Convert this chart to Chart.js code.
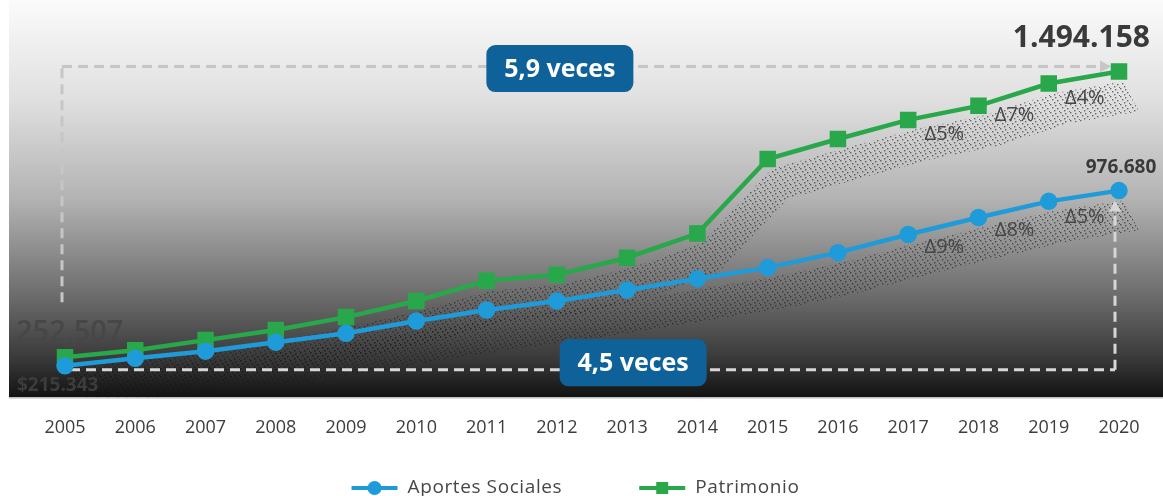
<!DOCTYPE html>
<html>
<head>
<meta charset="utf-8">
<script src="https://cdn.jsdelivr.net/npm/chart.js@4.4.1/dist/chart.umd.min.js"></script>
<style>
  html, body { margin: 0; padding: 0; background: #fff; overflow: hidden; }
  #wrap { width: 1163px; height: 496px; position: relative; }
</style>
</head>
<body>
<div id="wrap"><canvas id="chartCanvas"></canvas></div>
<script>
// datos
const years = ['2005', '2006', '2007', '2008', '2009', '2010', '2011', '2012',
               '2013', '2014', '2015', '2016', '2017', '2018', '2019', '2020'];
const aportes = [215343, 248000, 279000, 318000, 357000, 410000, 458000, 497000,
                 545000, 594000, 642000, 707000, 786000, 860000, 930000, 976680];
const patrimonio = [252507, 283000, 327000, 371000, 427000, 497000, 585000, 611000,
                    685000, 790000, 1114000, 1201000, 1284000, 1345000, 1442000, 1494158];
// variacion respecto al año anterior (se pinta entre i-1 e i)
const aportesDelta = ['', '', '', '', '', '', '', '', '', '', '', '', '', 'Δ9%', 'Δ8%', 'Δ5%'];
const patrimonioDelta = ['', '', '', '', '', '', '', '', '', '', '', '', '', 'Δ5%', 'Δ7%', 'Δ4%'];
const startLabels = ['$215.343', '252.507'];
const endLabels = ['976.680', '1.494.158'];
const vecesLabels = ['4,5 veces', '5,9 veces'];

const FONT = '"Open Sans", sans-serif';
const BLUE = '#1f9bd9';
const GREEN = '#28a84b';

function dotPattern(ctx) {
    const c = document.createElement('canvas');
    c.width = 10; c.height = 8;
    const p = c.getContext('2d');
    p.fillStyle = 'rgba(25,25,25,0.85)';
    [[0, 0], [5, 1], [2, 3], [7, 4], [4, 6], [9, 7]].forEach(d => p.fillRect(d[0], d[1], 1.4, 1.4));
    return ctx.createPattern(c, 'repeat');
}

function dashedArrow(ctx, x1, y1, x2, y2, color) {
    ctx.save();
    ctx.strokeStyle = color;
    ctx.fillStyle = color;
    ctx.lineWidth = 3;
    ctx.setLineDash([10, 6]);
    ctx.beginPath();
    ctx.moveTo(x1, y1);
    ctx.lineTo(x2, y2);
    ctx.stroke();
    ctx.setLineDash([]);
    const a = Math.atan2(y2 - y1, x2 - x1);
    ctx.translate(x2, y2);
    ctx.rotate(a);
    ctx.beginPath();
    ctx.moveTo(2, 0);
    ctx.lineTo(-9, -6);
    ctx.lineTo(-9, 6);
    ctx.closePath();
    ctx.fill();
    ctx.restore();
}

function dashedLine(ctx, pts, color) {
    ctx.save();
    ctx.strokeStyle = color;
    ctx.lineWidth = 3;
    ctx.setLineDash([10, 6]);
    ctx.beginPath();
    ctx.moveTo(pts[0][0], pts[0][1]);
    for (let i = 1; i < pts.length; i++) ctx.lineTo(pts[i][0], pts[i][1]);
    ctx.stroke();
    ctx.restore();
}

function badge(ctx, text, cx, cy) {
    const w = 147, h = 47, r = 9;
    const x = cx - w / 2, y = cy - h / 2;
    ctx.save();
    ctx.fillStyle = '#0f6199';
    ctx.beginPath();
    ctx.moveTo(x + r, y);
    ctx.arcTo(x + w, y, x + w, y + h, r);
    ctx.arcTo(x + w, y + h, x, y + h, r);
    ctx.arcTo(x, y + h, x, y, r);
    ctx.arcTo(x, y, x + w, y, r);
    ctx.closePath();
    ctx.fill();
    ctx.fillStyle = '#fff';
    ctx.font = 'bold 25px ' + FONT;
    ctx.textAlign = 'center';
    ctx.textBaseline = 'middle';
    ctx.fillText(text, cx, cy + 1);
    ctx.restore();
}

const decorPlugin = {
    id: 'decor',
    beforeDraw(chart) {
        const { ctx, chartArea } = chart;
        const left = chartArea.left - 56;
        const g = ctx.createLinearGradient(0, chartArea.top, 0, chartArea.bottom);
        g.addColorStop(0, '#fbfbfb');
        g.addColorStop(0.25, '#e0e0e0');
        g.addColorStop(0.5, '#b3b3b3');
        g.addColorStop(0.75, '#6a6a6a');
        g.addColorStop(0.9, '#3a3a3a');
        g.addColorStop(1, '#121212');
        ctx.save();
        ctx.fillStyle = g;
        ctx.fillRect(left, chartArea.top, chart.width - left, chartArea.bottom - chartArea.top);
        ctx.fillStyle = '#d8d8d8';
        ctx.fillRect(left, chartArea.bottom, chart.width - left, 1.5);
        ctx.restore();
    },
    beforeDatasetsDraw(chart) {
        const { ctx, chartArea } = chart;
        const pattern = dotPattern(ctx);
        // sombra punteada bajo cada linea
        chart.data.datasets.forEach((ds, i) => {
            const pts = chart.getDatasetMeta(i).data;
            ctx.save();
            ctx.beginPath();
            ctx.rect(chartArea.left - 56, chartArea.top, chart.width, chartArea.bottom - chartArea.top);
            ctx.clip();
            ctx.fillStyle = pattern;
            ctx.globalAlpha = 0.7;
            ctx.beginPath();
            pts.forEach((p, k) => k ? ctx.lineTo(p.x + 4, p.y + 10) : ctx.moveTo(p.x + 4, p.y + 10));
            for (let k = pts.length - 1; k >= 0; k--) ctx.lineTo(pts[k].x + 20, pts[k].y + 40);
            ctx.closePath();
            ctx.fill();
            ctx.restore();
        });

        const apo = chart.getDatasetMeta(0).data;
        const pat = chart.getDatasetMeta(1).data;
        const n = apo.length - 1;

        // flecha superior (patrimonio)
        const topY = pat[n].y - 5;
        dashedLine(ctx, [[pat[0].x - 3, pat[0].y - 55], [pat[0].x - 3, topY]], '#c6c6c6');
        dashedArrow(ctx, pat[0].x - 3, topY, pat[n].x - 10, topY, '#c6c6c6');
        // flecha inferior (aportes)
        const botY = apo[0].y + 4;
        dashedLine(ctx, [[apo[0].x + 5, botY], [apo[n].x - 4, botY]], '#d6d6d6');
        dashedArrow(ctx, apo[n].x - 4, botY, apo[n].x - 4, apo[n].y + 12, '#d6d6d6');

        ctx.save();
        ctx.textAlign = 'left';
        ctx.textBaseline = 'middle';
        ctx.fillStyle = '#474747';
        ctx.font = '600 29px ' + FONT;
        ctx.fillText(startLabels[1], pat[0].x - 49, pat[0].y - 25);
        ctx.fillStyle = '#3c3c3c';
        ctx.font = 'bold 19px ' + FONT;
        ctx.fillText(startLabels[0], apo[0].x - 48, apo[0].y + 20);
        ctx.restore();
    },
    afterDatasetsDraw(chart) {
        const ctx = chart.ctx;
        const x = chart.scales.x;
        const apo = chart.getDatasetMeta(0).data;
        const pat = chart.getDatasetMeta(1).data;
        const n = apo.length - 1;

        badge(ctx, vecesLabels[1], x.getPixelForValue(7) + 3, pat[n].y - 3);
        badge(ctx, vecesLabels[0], x.getPixelForValue(8) + 6, apo[0].y - 3);

        ctx.save();
        ctx.fillStyle = '#3a3a3a';
        ctx.textAlign = 'right';
        ctx.textBaseline = 'middle';
        ctx.font = 'bold 30px ' + FONT;
        ctx.fillText(endLabels[1], pat[n].x + 31, pat[n].y - 33);
        ctx.textAlign = 'center';
        ctx.font = 'bold 19px ' + FONT;
        ctx.fillText(endLabels[0], apo[n].x + 2, apo[n].y - 23);

        ctx.font = '20px ' + FONT;
        ctx.fillStyle = '#474747';
        [[apo, aportesDelta], [pat, patrimonioDelta]].forEach(([pts, deltas]) => {
            deltas.forEach((d, i) => {
                if (!d) return;
                const mx = (pts[i - 1].x + pts[i].x) / 2;
                const my = (pts[i - 1].y + pts[i].y) / 2;
                ctx.fillText(d, mx + 1, my + 21);
            });
        });
        ctx.restore();
    },
    afterDraw(chart) {
        // leyenda propia: linea + marcador
        const ctx = chart.ctx;
        ctx.save();
        ctx.font = '19px ' + FONT;
        ctx.letterSpacing = '0.6px';
        const items = chart.data.datasets.map(ds => ({ text: ds.label, color: ds.borderColor, style: ds.pointStyle }));
        const lineW = 46, gapText = 10, gapItem = 77;
        let total = 0;
        items.forEach((it, i) => {
            it.w = lineW + gapText + ctx.measureText(it.text).width;
            total += it.w + (i ? gapItem : 0);
        });
        let lx = (chart.width - total) / 2 - 6;
        const ly = chart.height - 8;
        items.forEach(it => {
            ctx.strokeStyle = it.color;
            ctx.lineWidth = 4;
            ctx.beginPath();
            ctx.moveTo(lx, ly);
            ctx.lineTo(lx + lineW, ly);
            ctx.stroke();
            ctx.fillStyle = it.color;
            if (it.style === 'circle') {
                ctx.beginPath();
                ctx.arc(lx + lineW / 2, ly, 7, 0, Math.PI * 2);
                ctx.fill();
            } else {
                ctx.fillRect(lx + lineW / 2 - 6, ly - 6, 12, 12);
            }
            ctx.fillStyle = '#474747';
            ctx.textAlign = 'left';
            ctx.textBaseline = 'middle';
            ctx.fillText(it.text, lx + lineW + gapText, ly);
            lx += it.w + gapItem;
        });
        ctx.restore();
    }
};

function drawChart() {
    const ctx = document.getElementById('chartCanvas').getContext('2d');
    new Chart(ctx, {
        type: 'line',
        data: {
            labels: years,
            datasets: [
                { label: 'Aportes Sociales', data: aportes, borderColor: BLUE, backgroundColor: BLUE,
                  pointStyle: 'circle', pointRadius: 6.5, borderWidth: 4.5, fill: false, clip: false },
                { label: 'Patrimonio', data: patrimonio, borderColor: GREEN, backgroundColor: GREEN,
                  pointStyle: 'rect', pointRadius: 8.5, borderWidth: 4.5, fill: false, clip: false }
            ]
        },
        options: {
            responsive: true,
            maintainAspectRatio: false,
            animation: false,
            layout: { autoPadding: false, padding: { left: 65, right: 44, top: 0, bottom: 37 } },
            elements: { line: { tension: 0 }, point: { borderWidth: 0, hoverRadius: 7 } },
            plugins: { legend: { display: false }, tooltip: { enabled: false } },
            scales: {
                x: {
                    offset: false,
                    grid: { display: false, drawTicks: false },
                    border: { display: false },
                    ticks: { color: '#3d3d3d', font: { family: FONT, size: 18 }, padding: 20, maxRotation: 0 }
                },
                y: { display: false, min: 78000, max: 1805000 }
            }
        },
        plugins: [decorPlugin]
    });
}

drawChart();
</script>
</body>
</html>
